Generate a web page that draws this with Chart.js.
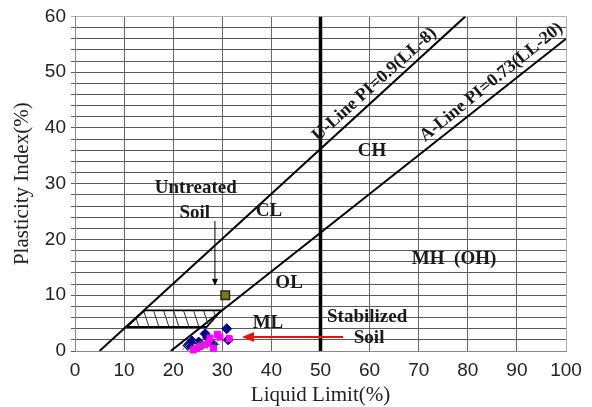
<!DOCTYPE html>
<html><head><meta charset="utf-8">
<script src="https://cdn.jsdelivr.net/npm/chart.js@4.4.1/dist/chart.umd.min.js"></script>
<style>html,body{margin:0;padding:0;background:#fff}canvas{display:block}</style>
</head><body>
<canvas id="c" width="592" height="407"></canvas>
<script>
// ---- data (Liquid Limit LL %, Plasticity Index PI %) ----
const xTicks = [0,10,20,30,40,50,60,70,80,90,100];
const yTicks = [0,10,20,30,40,50,60];
const uLineLL = [5, 79.5];
const uLinePI = [0, 60];
const aLineLL = [19.5, 100];
const aLinePI = [0, 56];
const dividerLL = [50, 50];
const dividerPI = [0, 60];
const hatchLL = [10.5, 26.8, 29.8, 14.2, 10.5];
const hatchPI = [4.3, 4.3, 7.3, 7.3, 4.3];
const untreatedLL = [30.6];
const untreatedPI = [10];
const stabBlueLL = [30.9, 26.5, 31.2, 23.8, 28.1, 23.0, 27.0, 25.2];
const stabBluePI = [4.0, 3.1, 2.0, 1.8, 1.2, 1.0, 2.4, 1.6];
const stabMagentaLL = [27.5, 29.5, 27.1, 25.5, 24.1, 24.8, 28.2, 31.4, 26.3, 29.0];
const stabMagentaPI = [2.3, 2.5, 1.4, 0.8, 0.2, 0.5, 0.5, 2.2, 1.1, 3.0];
const stabGrayLL = [22.5, 26.5, 25.0, 28.8];
const stabGrayPI = [0.8, 0.8, 1.3, 1.6];

const pts = (xs, ys) => xs.map((x, i) => ({x, y: ys[i]}));

function hatchPattern() {
  const c = document.createElement('canvas');
  c.width = 10; c.height = 30;
  const g = c.getContext('2d');
  g.strokeStyle = '#333'; g.lineWidth = 1;
  g.beginPath(); g.moveTo(-1, -3); g.lineTo(11, 33); g.stroke();
  return g.createPattern(c, 'repeat');
}

const annotations = [
  {text: 'U-Line PI=0.9(LL-8)', x: 61, y: 47.8, rot: -42, size: 18},
  {text: 'A-Line PI=0.73(LL-20)', x: 84.8, y: 48.2, rot: -39, size: 18},
  {text: 'CH', x: 60.5, y: 35.8},
  {text: 'CL', x: 39.5, y: 25.1},
  {text: 'OL', x: 43.6, y: 12.1},
  {text: 'ML', x: 39.3, y: 5.0},
  {text: 'MH  (OH)', x: 77.2, y: 16.5},
  {text: 'Untreated', x: 24.6, y: 29.2},
  {text: 'Soil', x: 24.4, y: 24.7},
  {text: 'Stabilized', x: 59.5, y: 6.0},
  {text: 'Soil', x: 59.9, y: 2.3}
];
const arrows = [
  {x1: 54.6, y1: 2.5, x2: 34, y2: 2.5, color: '#e81010', width: 2, head: 12, hw: 5},
  {x1: 28.5, y1: 23.3, x2: 28.5, y2: 11.7, color: '#000', width: 1, head: 7, hw: 3}
];

const annotPlugin = {
  id: 'annot',
  afterDatasetsDraw(chart) {
    const {ctx, scales: {x, y}} = chart;
    ctx.save();
    arrows.forEach(a => {
      const px1 = x.getPixelForValue(a.x1), py1 = y.getPixelForValue(a.y1);
      const px2 = x.getPixelForValue(a.x2), py2 = y.getPixelForValue(a.y2);
      const ang = Math.atan2(py2 - py1, px2 - px1);
      const bx = px2 - a.head * Math.cos(ang), by = py2 - a.head * Math.sin(ang);
      ctx.strokeStyle = a.color; ctx.fillStyle = a.color; ctx.lineWidth = a.width;
      ctx.beginPath(); ctx.moveTo(px1, py1); ctx.lineTo(bx, by); ctx.stroke();
      ctx.beginPath();
      ctx.moveTo(px2, py2);
      ctx.lineTo(bx + a.hw * Math.sin(ang), by - a.hw * Math.cos(ang));
      ctx.lineTo(bx - a.hw * Math.sin(ang), by + a.hw * Math.cos(ang));
      ctx.closePath(); ctx.fill();
    });
    ctx.fillStyle = '#1a1a1a';
    ctx.textAlign = 'center'; ctx.textBaseline = 'middle';
    annotations.forEach(t => {
      const px = x.getPixelForValue(t.x), py = y.getPixelForValue(t.y);
      ctx.save();
      ctx.font = 'bold ' + (t.size || 19) + 'px "Liberation Serif", "Times New Roman", serif';
      ctx.translate(px, py);
      if (t.rot) ctx.rotate(t.rot * Math.PI / 180);
      ctx.fillText(t.text, 0, 0);
      ctx.restore();
    });
    ctx.restore();
  }
};

const lineDs = (data, w, extra) => Object.assign({
  type: 'line', data, borderColor: '#000', borderWidth: w, pointRadius: 0,
  showLine: true, fill: false, tension: 0
}, extra || {});

new Chart(document.getElementById('c'), {
  type: 'scatter',
  data: {
    datasets: [
      lineDs(pts(hatchLL, hatchPI), 1.8, {fill: 'shape', backgroundColor: hatchPattern()}),
      lineDs(pts(uLineLL, uLinePI), 2),
      lineDs(pts(aLineLL, aLinePI), 2),
      lineDs(pts(dividerLL, dividerPI), 3.5),
      {data: pts(stabGrayLL, stabGrayPI), pointStyle: 'crossRot', pointRadius: 4.5, borderColor: '#777', borderWidth: 1, clip: false},
      {data: pts(stabMagentaLL, stabMagentaPI), pointStyle: 'rect', pointRadius: 4.3, backgroundColor: '#ff00ff', borderColor: '#ff00ff', borderWidth: 1, clip: false},
      {data: pts(stabBlueLL, stabBluePI), pointStyle: 'rectRot', pointRadius: 5, backgroundColor: '#00008b', borderColor: '#00008b', borderWidth: 1, clip: false},
      {data: pts(untreatedLL, untreatedPI), pointStyle: 'rect', pointRadius: 6, backgroundColor: '#7a7a00', borderColor: '#222', borderWidth: 1.5, clip: false}
    ]
  },
  options: {
    responsive: false,
    animation: false,
    devicePixelRatio: 1,
    layout: {padding: {left: 0, right: 26, top: 14, bottom: 0}},
    plugins: {legend: {display: false}, tooltip: {enabled: false}},
    scales: {
      x: {
        type: 'linear', min: 0, max: 100,
        afterFit: s => { s.height = 56; },
        afterBuildTicks: s => { s.ticks = xTicks.map(v => ({value: v})); },
        grid: {color: c => c.tick && c.tick.value === 100 ? '#b0b0b0' : '#6a6a6a', lineWidth: 1, drawTicks: false},
        border: {color: '#888', width: 1},
        ticks: {color: '#222', padding: 8, maxRotation: 0, font: {family: '"Liberation Sans", Arial, sans-serif', size: 19}},
        title: {display: true, text: 'Liquid Limit(%)', color: '#222', padding: {top: 0, bottom: -1}, font: {family: '"Liberation Serif", "Times New Roman", serif', size: 21}}
      },
      y: {
        type: 'linear', min: 0, max: 60,
        afterFit: s => { s.width = 75; },
        ticks: {stepSize: 2, autoSkip: false, color: '#222', padding: 5,
          font: {family: '"Liberation Sans", Arial, sans-serif', size: 19},
          callback: v => yTicks.includes(v) ? String(v) : ''},
        grid: {color: c => c.tick && c.tick.value === 60 ? '#b0b0b0' : '#5a5a5a', lineWidth: 1, drawTicks: true, tickLength: 4},
        border: {color: '#888', width: 1},
        title: {display: true, text: 'Plasticity Index(%)', color: '#222', padding: {top: 10, bottom: 0}, font: {family: '"Liberation Serif", "Times New Roman", serif', size: 21}}
      }
    }
  },
  plugins: [annotPlugin]
});
</script>
</body></html>
